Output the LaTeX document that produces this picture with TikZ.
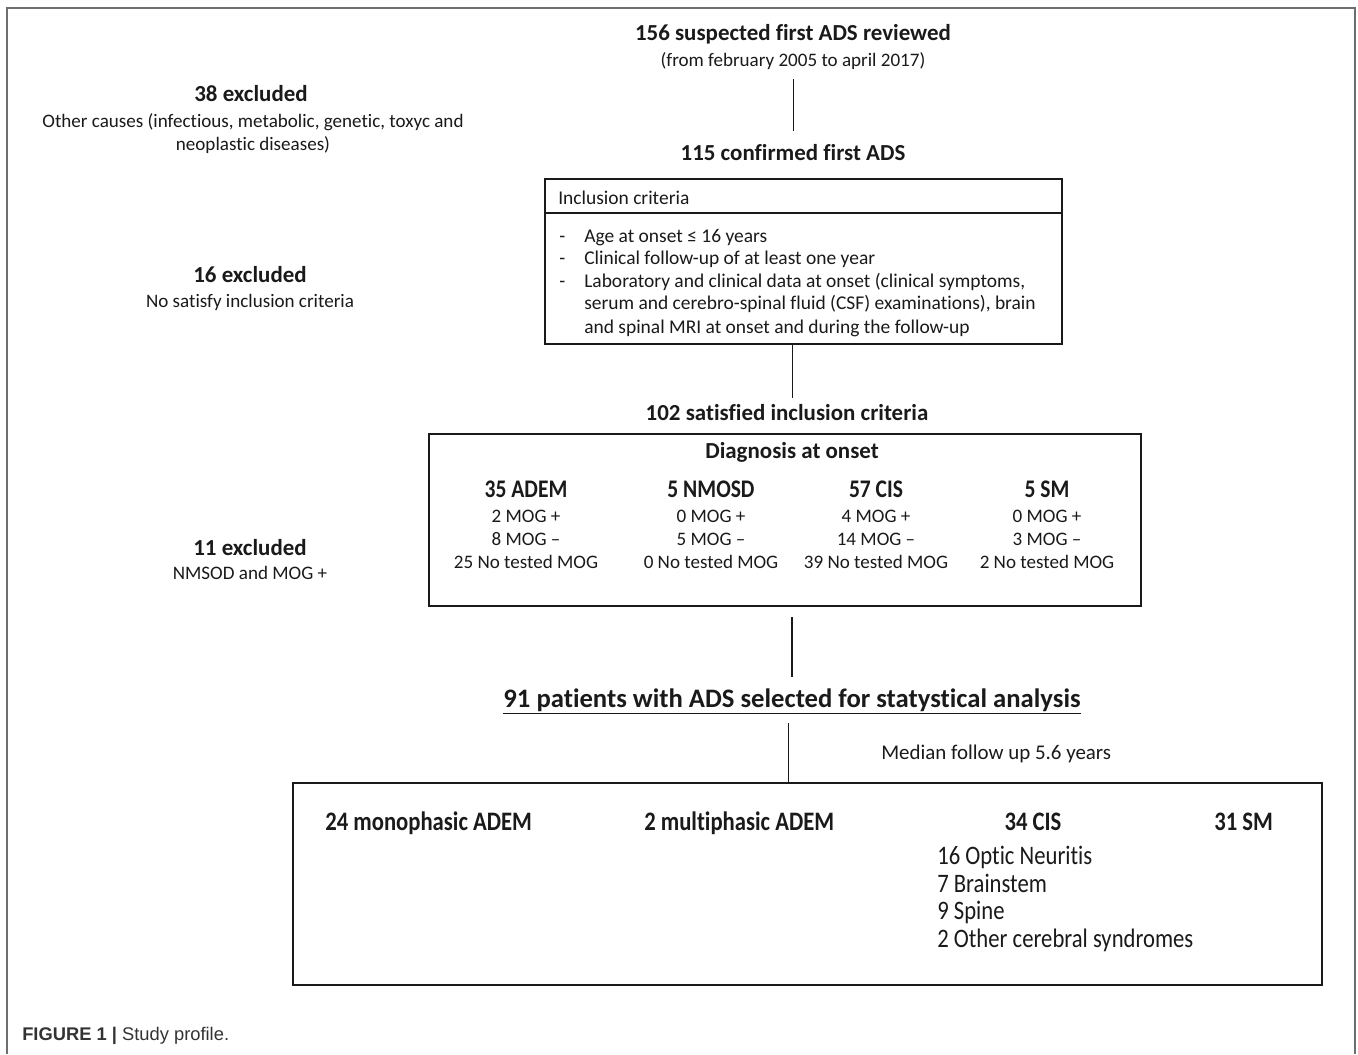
\documentclass[tikz,border=0pt]{standalone}
\usepackage{fontspec}
\setmainfont[Ligatures=NoCommon]{Carlito}
\newfontfamily\condfont[FakeStretch=0.85,Ligatures=NoCommon]{Carlito}
\newfontfamily\capfont{Liberation Sans}
\definecolor{frame}{HTML}{6E6E6E}
\definecolor{ink}{HTML}{1A1A1A}
\begin{document}
\begin{tikzpicture}[x=0.75pt,y=-0.75pt,
  every node/.style={inner sep=0pt, text=ink},
  tx/.style={yshift=-3pt},
  bt/.style={tx, font=\fontsize{17.2}{20}\selectfont\bfseries, anchor=mid},
  bbig/.style={tx, font=\condfont\fontsize{19}{22}\selectfont\bfseries, anchor=mid},
  bcond/.style={tx, font=\condfont\fontsize{20}{23}\selectfont\bfseries, anchor=mid west},
  rt/.style={tx, font=\fontsize{14.3}{17}\selectfont, anchor=mid},
  lt/.style={tx, font=\fontsize{14.6}{17}\selectfont, anchor=mid west},
  ct/.style={tx, font=\condfont\fontsize{20}{23}\selectfont, anchor=mid west},
  box/.style={draw=ink, line width=1.5pt, anchor=north west},
  conn/.style={draw=ink, line width=0.75pt}]
\useasboundingbox (0,0) rectangle (1358,1054);
\fill[white] (0,0) rectangle (1358,1054);
\draw[frame, line width=1.5pt] (7,1054) -- (7,8) -- (1355,8) -- (1355,1054);

% top flow
\node[bt] (t156) at (793,33) {156 suspected first ADS reviewed};
\node[rt] (tfrom) at (793,59) {(from february 2005 to april 2017)};
\node[bt] (t115) at (793,153) {115 confirmed first ADS};
\draw[conn] ([yshift=-12pt]tfrom.mid) -- ([yshift=19.5pt]t115.mid);

% exclusions
\node[bt] (x38) at (251,94) {38 excluded};
\node[rt] (x38a) at (253,120) {Other causes (infectious, metabolic, genetic, toxyc and};
\node[rt] (x38b) at (253,143) {neoplastic diseases)};
\node[bt] (x16) at (250,275) {16 excluded};
\node[rt] (x16a) at (250,300) {No satisfy inclusion criteria};
\node[bt] (x11) at (250,548) {11 excluded};
\node[rt] (x11a) at (250,572) {NMSOD and MOG +};

% inclusion box
\node[box, minimum width=387.75pt, minimum height=123.75pt] (inc) at (544,178) {};
\draw[draw=ink, line width=1.5pt] (inc.west |- 0,213) -- (inc.east |- 0,213);
\node[lt] (inch) at (558,197) {Inclusion criteria};
\node[lt] (d1) at (559,235) {-};
\node[lt] (i1) at (584,235) {Age at onset ≤ 16 years};
\node[lt] (d2) at (559,257) {-};
\node[lt] (i2) at (584,257) {Clinical follow-up of at least one year};
\node[lt] (d3) at (559,280) {-};
\node[lt] (i3) at (584,280) {Laboratory and clinical data at onset (clinical symptoms,};
\node[lt] (i4) at (584,302) {serum and cerebro-spinal fluid (CSF) examinations), brain};
\node[lt] (i5) at (584,326) {and spinal MRI at onset and during the follow-up};

\node[bt] (t102) at (787,413) {102 satisfied inclusion criteria};
\draw[conn] (inc.south -| 792,0) -- ([yshift=14.25pt]t102.mid -| 792,0);

% diagnosis box
\node[box, minimum width=534pt, minimum height=129pt] (diag) at (428,433) {};
\node[bt] (dh) at (792,451) {Diagnosis at onset};
\node[bbig] (c1) at (526,490) {35 ADEM};
\node[rt] (c1a) at (526,515) {2 MOG +};
\node[rt] (c1b) at (526,538) {8 MOG –};
\node[rt] (c1c) at (526,561) {25 No tested MOG};
\node[bbig] (c2) at (711,490) {5 NMOSD};
\node[rt] (c2a) at (711,515) {0 MOG +};
\node[rt] (c2b) at (711,538) {5 MOG –};
\node[rt] (c2c) at (711,561) {0 No tested MOG};
\node[bbig] (c3) at (876,490) {57 CIS};
\node[rt] (c3a) at (876,515) {4 MOG +};
\node[rt] (c3b) at (876,538) {14 MOG –};
\node[rt] (c3c) at (876,561) {39 No tested MOG};
\node[bbig] (c4) at (1047,490) {5 SM};
\node[rt] (c4a) at (1047,515) {0 MOG +};
\node[rt] (c4b) at (1047,538) {3 MOG –};
\node[rt] (c4c) at (1047,561) {2 No tested MOG};

% selected
\node[tx, font=\fontsize{20}{23}\selectfont\bfseries, anchor=mid] (t91) at (792,700) {\underline{91 patients with ADS selected for statystical analysis}};
\draw[draw=ink, line width=1.5pt] ([yshift=-7.5pt]diag.south -| 792,0) -- ([yshift=20.25pt]t91.mid -| 792,0);
\node[tx, font=\fontsize{15.7}{18}\selectfont, anchor=mid west] (med) at (881,752) {Median follow up 5.6 years};

% outcome box
\node[box, minimum width=771.75pt, minimum height=151.5pt] (out) at (292,782) {};
\draw[conn] ([yshift=-14.25pt]t91.mid -| 788,0) -- (out.north -| 788,0);
\node[bcond] (o1) at (325,823) {24 monophasic ADEM};
\node[bcond] (o2) at (644,823) {2 multiphasic ADEM};
\node[bcond, anchor=mid] (o3) at (1033,823) {34 CIS};
\node[bcond] (o4) at (1214,823) {31 SM};
\node[ct] (s1) at (937,857) {16 Optic Neuritis};
\node[ct] (s2) at (937,885) {7 Brainstem};
\node[ct] (s3) at (937,912) {9 Spine};
\node[ct] (s4) at (937,940) {2 Other cerebral syndromes};

% caption
\node[tx, font=\capfont\fontsize{13.75}{16}\selectfont, anchor=mid west, text=black!80] (cap) at (22,1033) {\textbf{FIGURE 1 |} Study profile.};
\end{tikzpicture}
\end{document}
